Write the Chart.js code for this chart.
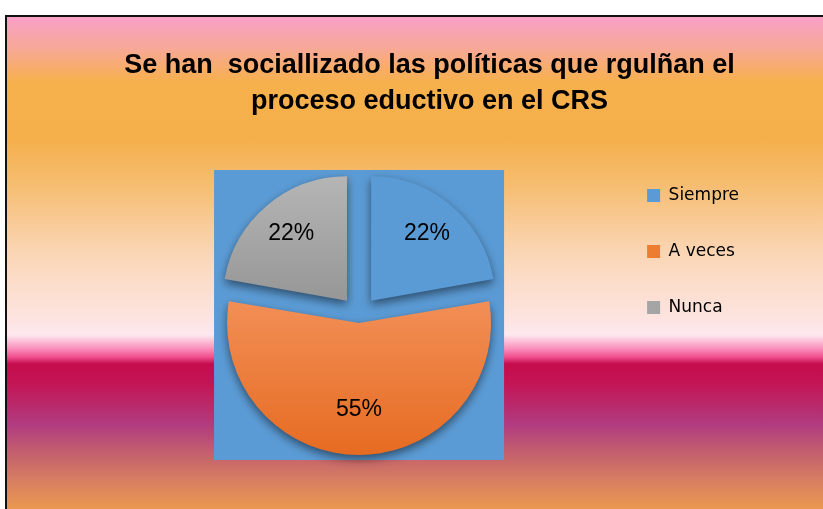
<!DOCTYPE html>
<html>
<head>
<meta charset="utf-8">
<script src="https://cdn.jsdelivr.net/npm/chart.js@4.4.1/dist/chart.umd.min.js"></script>
<style>
  html, body { margin: 0; padding: 0; background: #fff; overflow: hidden; width: 823px; height: 509px; }
  #frame {
    position: absolute; left: 5px; top: 15px;
    width: 858px; height: 492px;
    border-left: 2px solid #111; border-top: 2px solid #111;
    background: linear-gradient(to bottom,
      #F9A0C8 0px, #F8A898 31px, #F6B04C 65px, #F5B04C 123px, #F6BC6E 165px,
      #F8C890 198px, #FAD4B0 231px, #FCDDCA 265px, #FDE3DE 298px, #FDE8EE 318px,
      #FCCCE0 322px, #FA94BE 331px, #F0508E 340px, #C40C4C 347px, #C41454 365px,
      #B03C80 408px, #C05A70 431px, #D88060 465px, #EA9850 492px);
  }
  canvas { position: absolute; left: 0; top: 0; }
</style>
</head>
<body>
<div id="frame"><canvas id="pieChart" width="858" height="492"></canvas></div>
<script>
const titleLines = ['Se han  sociallizado las políticas que rgulñan el', 'proceso eductivo en el CRS']
const categories = ['Siempre', 'A veces', 'Nunca']
const percents = [22, 55, 22]
const baseColors = ['#5B9BD5', '#ED7D31', '#A5A5A5']
const shadeColors = [['#70A9DD', '#4287C9'], ['#F29058', '#E5661A'], ['#B5B5B5', '#939393']]
// Chart.js moves an arc by offset / 4
const explode = [75, 32, 75]

function sliceFill(context) {
  const i = context.dataIndex
  const chart = context.chart
  const arc = chart.getDatasetMeta(0).data[0]
  if (!chart.chartArea || !arc || !arc.outerRadius) return baseColors[i]
  const top = arc.y - arc.outerRadius
  const bottom = arc.y + arc.outerRadius + 30
  const g = chart.ctx.createLinearGradient(0, top, 0, bottom)
  if (i === 1) {
    g.addColorStop(0.35, shadeColors[i][0])
    g.addColorStop(1, shadeColors[i][1])
  } else {
    g.addColorStop(0, shadeColors[i][0])
    g.addColorStop(0.5, shadeColors[i][1])
  }
  return g
}

const plotBackground = {
  id: 'plotBackground',
  beforeDatasetsDraw(chart) {
    const arc = chart.getDatasetMeta(0).data[0]
    if (!arc) return
    const ctx = chart.ctx
    const half = arc.outerRadius + 21
    ctx.save()
    ctx.fillStyle = '#5B9BD5'
    ctx.fillRect(arc.x - half, arc.y - half, half * 2, half * 2)
    ctx.restore()
    // soft shadow under the slices
    ctx.save()
    ctx.shadowColor = 'rgba(0, 0, 0, 0.5)'
    ctx.shadowBlur = 10
    ctx.shadowOffsetY = 4
  },
  afterDatasetsDraw(chart) {
    const ctx = chart.ctx
    ctx.restore()
    const meta = chart.getDatasetMeta(0)
    ctx.save()
    ctx.font = '23px "Liberation Sans", sans-serif'
    ctx.fillStyle = '#000'
    ctx.textAlign = 'center'
    ctx.textBaseline = 'middle'
    meta.data.forEach((arc, i) => {
      const mid = (arc.startAngle + arc.endAngle) / 2
      const d = explode[i] / 4 + arc.outerRadius * 0.7
      ctx.fillText(percents[i] + '%', arc.x + Math.cos(mid) * d, arc.y + Math.sin(mid) * d)
    })
    ctx.restore()
  }
}

new Chart(document.getElementById('pieChart'), {
  type: 'pie',
  data: {
    labels: categories,
    datasets: [{
      data: percents,
      backgroundColor: sliceFill,
      borderWidth: 0,
      offset: explode
    }]
  },
  options: {
    responsive: false,
    animation: false,
    radius: 124,
    layout: { padding: { left: 103, right: 116, top: 0, bottom: 27 } },
    plugins: {
      title: {
        display: true,
        text: titleLines,
        color: '#000',
        font: { family: '"Liberation Sans", sans-serif', size: 27, weight: 'bold', lineHeight: 1.333 },
        padding: { top: 31, bottom: 28 }
      },
      legend: {
        position: 'right',
        align: 'start',
        fullSize: false,
        labels: {
          boxWidth: 13,
          boxHeight: 13,
          padding: 39,
          color: '#44546A',
          font: { family: '"DejaVu Sans", sans-serif', size: 17 },
          generateLabels(chart) {
            return categories.map((c, i) => ({
              text: c, fillStyle: baseColors[i], strokeStyle: baseColors[i], lineWidth: 0, index: i, hidden: false
            }))
          }
        }
      },
      tooltip: { enabled: false }
    }
  },
  plugins: [plotBackground]
})
</script>
</body>
</html>
